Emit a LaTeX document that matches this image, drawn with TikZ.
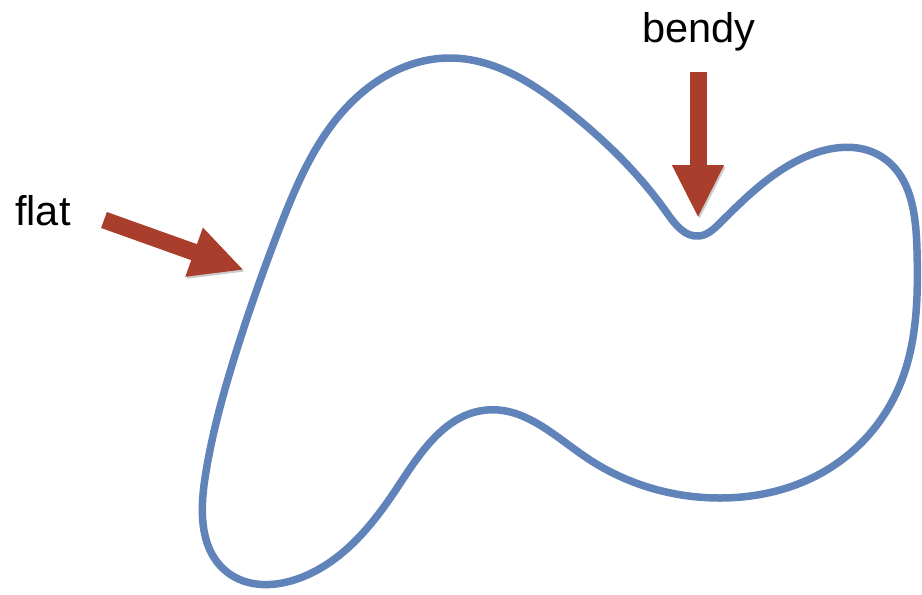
\documentclass[tikz,border=0pt]{standalone}
\usepackage{fontspec}
\setmainfont{Liberation Sans}
\usepackage{tikz}
\usetikzlibrary{positioning, arrows.meta, calc, hobby}

\definecolor{curveblue}{RGB}{96,131,186}
\definecolor{brickred}{RGB}{170,62,44}

\begin{document}
\begin{tikzpicture}[x=1pt, y=-1pt,
        % Define styles
        label/.style={anchor=base west, inner sep=0pt, font=\fontsize{41.5}{46}\selectfont},
        outline/.style={draw=curveblue, line width=7.5pt, line join=round},
        pointer/.style={draw=brickred, line width=17pt,
            -{Triangle[length=53pt, width=48pt, fill=brickred]},
            preaction={draw=black, opacity=0.2, transform canvas={shift={(1.5pt,-2pt)}}}}
    ]

    \useasboundingbox (0,0) rectangle (922,595);

    % --- Closed curve ---
    \draw[outline, use Hobby shortcut, closed=true]
        (450,58) .. (567,110) .. (667,213) .. (699,236) .. (720,223)
        .. (805,157) .. (882,157) .. (917,250) .. (899,387) .. (830,468)
        .. (720,498) .. (587,458) .. (487,410) .. (397,488) .. (300,578)
        .. (227,572) .. (205,478) .. (233,362) .. (280,227) .. (357,97);

    % --- Labels ---
    \node[label] (flat) at (15,225) {flat};
    \node[label] (bendy) at (642,42) {bendy};

    % --- Arrow ends ---
    \coordinate (flat_tail) at (104,220);
    \coordinate (flat_tip) at (244,270);
    \coordinate (bendy_tail) at (698,72);
    \coordinate (bendy_tip) at (698,218);

    % --- Arrows ---
    \draw[pointer] (flat_tail) -- (flat_tip);
    \draw[pointer] (bendy_tail) -- (bendy_tip);

\end{tikzpicture}
\end{document}
